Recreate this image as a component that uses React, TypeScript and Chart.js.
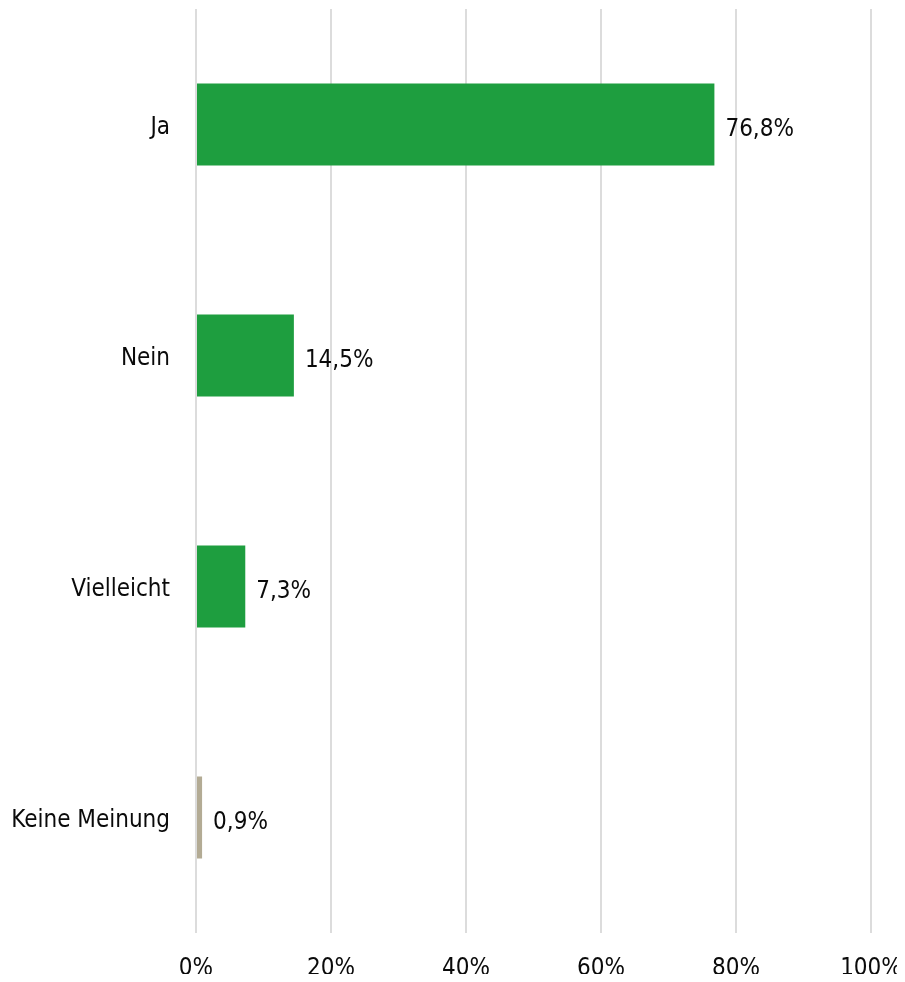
import React, { useEffect, useRef } from "react";
import { Chart, registerables } from "chart.js";

Chart.register(...registerables);

const categories = ["Ja", "Nein", "Vielleicht", "Keine Meinung"];
const values = [76.8, 14.5, 7.3, 0.9];
const valueLabels = ["76,8%", "14,5%", "7,3%", "0,9%"];
const barColors = ["#1e9e3f", "#1e9e3f", "#1e9e3f", "#b3ab94"];
const xTicks = [0, 20, 40, 60, 80, 100];

const FONT = "'DejaVu Sans Condensed', 'Liberation Sans Narrow', sans-serif";
const FONT_SIZE = 24;

const valueLabelPlugin = {
  id: "valueLabels",
  afterDatasetsDraw(chart: any) {
    const ctx = chart.ctx;
    const meta = chart.getDatasetMeta(0);
    ctx.save();
    ctx.font = `${FONT_SIZE}px ${FONT}`;
    ctx.fillStyle = "#0a0a0a";
    ctx.textAlign = "left";
    ctx.textBaseline = "middle";
    meta.data.forEach((bar: any, i: number) => {
      ctx.fillText(valueLabels[i], bar.x + 11, bar.y + 5);
    });
    ctx.restore();
  },
};

export default function App() {
  const ref = useRef<HTMLCanvasElement | null>(null);
  useEffect(() => {
    if (!ref.current) return;
    const chart = new Chart(ref.current, {
      type: "bar",
      data: {
        labels: categories,
        datasets: [
          {
            data: values,
            backgroundColor: barColors,
            categoryPercentage: 1,
            barPercentage: 0.355,
          },
        ],
      },
      options: {
        indexAxis: "y",
        animation: false,
        responsive: false,
        layout: { padding: { top: 1, right: 26, left: 0, bottom: 0 } },
        plugins: { legend: { display: false }, tooltip: { enabled: false } },
        scales: {
          x: {
            min: 0,
            max: 100,
            afterBuildTicks(scale: any) {
              scale.ticks = xTicks.map((v) => ({ value: v }));
            },
            afterFit(scale: any) {
              scale.height = 41;
              scale.paddingLeft = 0;
              scale.paddingRight = 0;
              scale.paddingTop = 0;
              scale.paddingBottom = 0;
            },
            ticks: {
              callback: (v: any) => `${v}%`,
              color: "#0a0a0a",
              font: { family: FONT, size: FONT_SIZE },
              padding: 21,
              maxRotation: 0,
            },
            grid: { color: "#dcdcdc", lineWidth: 2, drawTicks: false },
            border: { display: false },
          },
          y: {
            afterFit(scale: any) {
              scale.width = 188;
              scale.paddingLeft = 0;
              scale.paddingRight = 0;
              scale.paddingTop = 0;
              scale.paddingBottom = 0;
            },
            ticks: {
              color: "#0a0a0a",
              font: { family: FONT, size: FONT_SIZE },
              padding: 26,
              labelOffset: 3,
            },
            grid: { display: false, drawTicks: false },
            border: { display: false },
          },
        },
      },
      plugins: [valueLabelPlugin],
    });
    return () => chart.destroy();
  }, []);
  return (
    <div style={{ width: 889, height: 966 }}>
      <canvas ref={ref} width={889} height={966} style={{ width: 889, height: 966, display: "block" }} />
    </div>
  );
}
